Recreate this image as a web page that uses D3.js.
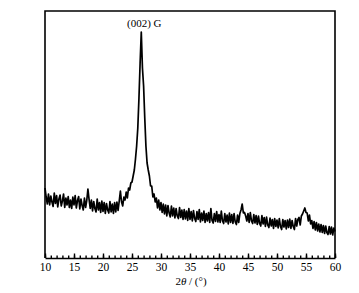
<!DOCTYPE html>
<html>
<head>
<meta charset="utf-8">
<script src="https://cdn.jsdelivr.net/npm/d3@7"></script>
<style>
  body { margin: 0; background: #fff; }
  svg { display: block; }
</style>
</head>
<body>
<div id="chart"></div>
<script>
// XRD pattern, 2theta from 10 to 60 deg in 0.2 deg steps
const thetaStart = 10;
const thetaStep = 0.2;
const intensity = [
  700, 610, 540, 640, 530, 620, 560, 515, 650, 545,
  625, 510, 590, 630, 520, 570, 640, 505, 600, 530,
  615, 505, 580, 495, 610, 530, 625, 500, 575, 615,
  490, 590, 525, 480, 600, 505, 575, 690, 585, 495,
  580, 470, 565, 495, 460, 590, 480, 555, 455, 570,
  465, 555, 445, 545, 480, 450, 565, 460, 540, 445,
  555, 460, 560, 475, 570, 670, 560, 520, 610, 580,
  660, 600, 700, 680, 750, 760, 820, 880, 990, 1120,
  1300, 1600, 1950, 2260, 1900, 1720, 1400, 1120, 950, 880,
  820, 720, 720, 610, 640, 560, 600, 500, 580, 480,
  555, 455, 540, 440, 530, 420, 525, 450, 410, 520,
  420, 500, 400, 495, 420, 395, 505, 405, 480, 385,
  485, 390, 470, 375, 495, 385, 465, 370, 475, 395,
  365, 465, 385, 485, 360, 450, 375, 470, 355, 445,
  370, 455, 355, 495, 375, 350, 445, 365, 465, 360,
  435, 355, 470, 370, 345, 445, 360, 430, 340, 450,
  355, 435, 345, 445, 360, 335, 430, 355, 445, 480,
  540, 450, 455, 420, 370, 445, 355, 455, 370, 345,
  435, 350, 425, 335, 420, 345, 320, 425, 340, 405,
  315, 410, 330, 305, 400, 320, 385, 295, 395, 315,
  380, 300, 395, 315, 285, 385, 310, 375, 290, 380,
  305, 390, 295, 375, 315, 285, 395, 320, 385, 405,
  330, 420, 440, 470, 500, 455, 450, 370, 430, 340,
  375, 295, 365, 280, 355, 270, 340, 260, 335, 255,
  325, 245, 320, 255, 235, 315, 240, 310, 230, 300,
  265
];
const majorTicks = [10, 15, 20, 25, 30, 35, 40, 45, 50, 55, 60];
const peakLabel = { theta: 26.6, text: "(002) G" };

const width = 359, height = 293;
const margin = { top: 11, right: 24, bottom: 35, left: 45 };

const data = intensity.map((v, i) => ({ t: thetaStart + i * thetaStep, v: v }));

const x = d3.scaleLinear().domain([10, 60]).range([margin.left, width - margin.right]);
const y = d3.scaleLinear().domain([0, 2470]).range([height - margin.bottom, margin.top]);

const svg = d3.select("#chart").append("svg")
  .attr("width", width)
  .attr("height", height)
  .style("font-family", "'Liberation Serif', 'Times New Roman', serif");

// frame: left, top, right
svg.append("path")
  .attr("d", `M${x(10)},${y(0)}V${y(2470)}H${x(60)}V${y(0)}`)
  .attr("fill", "none")
  .attr("stroke", "#000")
  .attr("stroke-width", 1.6);

// minor ticks
svg.append("g")
  .attr("transform", `translate(0,${y(0)})`)
  .call(d3.axisBottom(x).ticks(50).tickSize(-2.5).tickFormat(""))
  .call(g => g.select(".domain").remove())
  .selectAll("line").attr("stroke-width", 1.4);

// major ticks + labels
const xAxis = svg.append("g")
  .attr("transform", `translate(0,${y(0)})`)
  .call(d3.axisBottom(x).tickValues(majorTicks).tickSizeInner(-4.5).tickSizeOuter(0).tickPadding(5).tickFormat(d3.format("d")));
xAxis.select(".domain").attr("stroke-width", 1.6);
xAxis.selectAll("line").attr("stroke-width", 1.4);
xAxis.selectAll("text")
  .attr("font-size", 11.5)
  .attr("font-family", "'Liberation Serif', 'Times New Roman', serif")
  .attr("fill", "#000");

// curve
const line = d3.line().x(d => x(d.t)).y(d => y(d.v));
svg.append("path")
  .datum(data)
  .attr("d", line)
  .attr("fill", "none")
  .attr("stroke", "#000")
  .attr("stroke-width", 1.7)
  .attr("stroke-linejoin", "round");

// peak label
svg.append("text")
  .attr("x", x(peakLabel.theta) + 3)
  .attr("y", 27)
  .attr("text-anchor", "middle")
  .attr("font-size", 11)
  .text(peakLabel.text);

// axis title
const title = svg.append("text")
  .attr("x", (x(10) + x(60)) / 2 + 1)
  .attr("y", 285)
  .attr("text-anchor", "middle")
  .attr("font-size", 11);
title.append("tspan").text("2");
title.append("tspan").attr("font-style", "italic").text("θ");
title.append("tspan").text(" / (°)");
</script>
</body>
</html>
